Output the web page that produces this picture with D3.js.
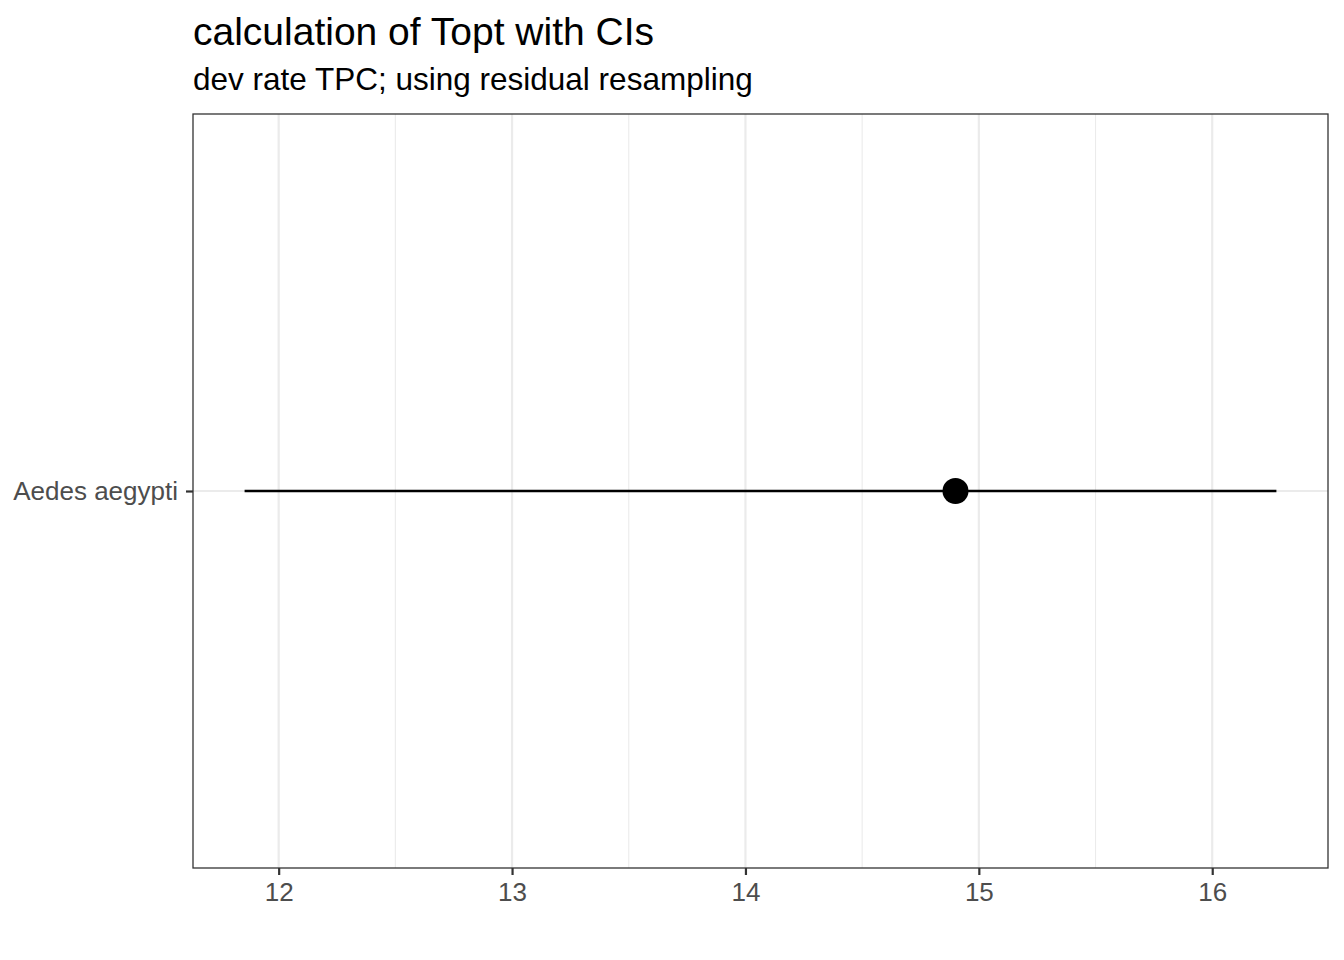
<!doctype html>
<html lang="en">
<head>
<meta charset="utf-8">
<title>Topt with CIs</title>
<style>
body { margin: 0; background: #fff; }
svg { display: block; font-family: "Liberation Sans", Arial, sans-serif; }
</style>
</head>
<body>
<div id="main"></div>
<script src="https://cdn.jsdelivr.net/npm/d3@7"></script>
<script>
// values
const species = ['Aedes aegypti'];
const topt = [14.90];
const conf_lower = [11.854];
const conf_upper = [16.275];
const xTicks = [12, 13, 14, 15, 16];

const width = 1344, height = 960;
const margin = {top: 114, right: 16, bottom: 92, left: 193};

const svg = d3.select('#main').append('svg')
    .attr('width', width)
    .attr('height', height);

const rows = species.map((s, i) => ({name: s, est: topt[i], lo: conf_lower[i], hi: conf_upper[i]}));

// ggplot style 5% expansion
const lo = d3.min(conf_lower), hi = d3.max(conf_upper);
const pad = (hi - lo) * 0.05;
const x = d3.scaleLinear()
    .domain([lo - pad, hi + pad])
    .range([margin.left, width - margin.right]);

const y = d3.scalePoint()
    .domain(species)
    .range([height - margin.bottom, margin.top])
    .padding(0.5);

const plot = svg.append('g');

// minor grid
const minor = d3.range(11.5, 17, 1).filter(v => v > x.domain()[0] && v < x.domain()[1]);
plot.selectAll('.minor').data(minor).join('line')
    .attr('x1', d => x(d)).attr('x2', d => x(d))
    .attr('y1', margin.top).attr('y2', height - margin.bottom)
    .attr('stroke', '#ebebeb').attr('stroke-width', 1.1);

// major grid
plot.selectAll('.major').data(xTicks).join('line')
    .attr('x1', d => x(d)).attr('x2', d => x(d))
    .attr('y1', margin.top).attr('y2', height - margin.bottom)
    .attr('stroke', '#ebebeb').attr('stroke-width', 2.2);

plot.selectAll('.hmajor').data(species).join('line')
    .attr('x1', margin.left).attr('x2', width - margin.right)
    .attr('y1', d => y(d)).attr('y2', d => y(d))
    .attr('stroke', '#ebebeb').attr('stroke-width', 2.2);

// error bars
plot.selectAll('.ci').data(rows).join('line')
    .attr('x1', d => x(d.lo)).attr('x2', d => x(d.hi))
    .attr('y1', d => y(d.name)).attr('y2', d => y(d.name))
    .attr('stroke', '#000').attr('stroke-width', 2.6);

plot.selectAll('.pt').data(rows).join('circle')
    .attr('cx', d => x(d.est)).attr('cy', d => y(d.name))
    .attr('r', 13)
    .attr('fill', '#000');

// panel border
svg.append('rect')
    .attr('x', margin.left).attr('y', margin.top)
    .attr('width', width - margin.right - margin.left)
    .attr('height', height - margin.bottom - margin.top)
    .attr('fill', 'none').attr('stroke', '#333').attr('stroke-width', 1.3);

// x axis
const xAxis = svg.append('g')
    .attr('transform', `translate(0,${height - margin.bottom})`)
    .call(d3.axisBottom(x).tickValues(xTicks).tickSize(7).tickPadding(8).tickFormat(d3.format('d')));
xAxis.attr('font-size', 26).attr('font-family', null);
xAxis.select('.domain').remove();
xAxis.selectAll('.tick line').attr('stroke', '#333').attr('stroke-width', 2.2);
xAxis.selectAll('.tick text').attr('fill', '#4d4d4d');

// y axis
const yAxis = svg.append('g')
    .attr('transform', `translate(${margin.left},0)`)
    .call(d3.axisLeft(y).tickSize(7).tickPadding(8));
yAxis.attr('font-size', 26).attr('font-family', null);
yAxis.select('.domain').remove();
yAxis.selectAll('.tick line').attr('stroke', '#333').attr('stroke-width', 2.2);
yAxis.selectAll('.tick text').attr('fill', '#4d4d4d');

// titles
svg.append('text')
    .attr('x', margin.left).attr('y', 45)
    .attr('font-size', 39).attr('fill', '#000')
    .text('calculation of Topt with CIs');
svg.append('text')
    .attr('x', margin.left).attr('y', 90)
    .attr('font-size', 31.5).attr('fill', '#000')
    .text('dev rate TPC; using residual resampling');
</script>
</body>
</html>
